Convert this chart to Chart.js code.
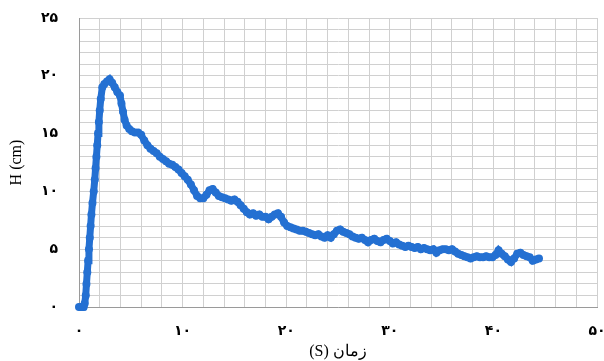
<!DOCTYPE html>
<html>
<head>
<meta charset="utf-8">
<script src="https://cdn.jsdelivr.net/npm/chart.js@4.4.1/dist/chart.umd.min.js"></script>
<style>
  html, body { margin: 0; padding: 0; background: #fff; }
  #wrap { width: 604px; height: 361px; position: relative; }
  #wrap canvas { position: absolute; left: 0; top: 0; }
</style>
</head>
<body>
<div id="wrap">
  <canvas id="gridChart" width="604" height="361"></canvas>
  <canvas id="hChart" width="604" height="361"></canvas>
</div>
<script>
// time (s) and water height (cm)
const timeS = [0,0.15,0.3,0.45,0.55,0.65,0.72,0.8,0.88,0.96,1.04,1.12,1.2,1.3,1.42,1.52,1.6,1.68,1.76,1.84,1.92,2.0,2.1,2.25,2.45,2.7,2.95,
  3.2,3.45,3.7,3.95,4.1,4.25,4.4,4.6,4.85,5.1,5.4,5.7,6.0,6.3,6.6,6.9,7.2,7.5,7.8,8.1,8.4,8.7,9.0,9.3,9.6,9.9,
  10.2,10.5,10.8,11.1,11.4,11.7,12.0,12.3,12.6,12.9,13.2,13.5,13.8,14.1,14.4,14.7,15.0,15.3,15.6,15.9,16.2,16.5,16.8,17.1,17.4,17.7,18.0,18.3,18.6,18.9,19.2,19.5,19.8,
  20.1,20.4,20.7,21.0,21.3,21.6,21.9,22.2,22.5,22.8,23.1,23.4,23.7,24.0,24.3,24.6,24.9,25.2,25.5,25.8,26.1,26.4,26.7,27.0,27.3,27.6,27.9,28.2,28.5,28.8,29.1,29.4,29.7,
  30.0,30.3,30.6,30.9,31.2,31.5,31.8,32.1,32.4,32.7,33.0,33.3,33.6,33.9,34.2,34.5,34.8,35.1,35.4,35.7,36.0,36.3,36.6,36.9,37.2,37.5,37.8,38.1,38.4,38.7,39.0,39.3,39.6,39.9,
  40.2,40.5,40.8,41.1,41.4,41.7,42.0,42.3,42.6,42.9,43.2,43.5,43.8,44.1,44.4];
const heightCm = [0,0,0,0,0.3,1.0,2.0,3.0,4.0,5.0,6.0,7.0,8.0,9.0,10.0,11.0,12.0,13.0,14.0,15.0,16.0,17.0,18.0,19.0,19.3,19.5,19.7,
  19.4,19.0,18.6,18.3,17.6,16.9,16.2,15.7,15.4,15.2,15.1,15.1,14.9,14.4,14.0,13.7,13.5,13.3,13.0,12.8,12.6,12.4,12.3,12.1,11.9,11.6,
  11.3,11.0,10.6,10.1,9.6,9.4,9.4,9.7,10.1,10.2,9.9,9.6,9.5,9.4,9.3,9.2,9.3,9.1,8.8,8.5,8.2,8.0,8.1,7.9,8.0,7.8,7.8,7.6,7.8,8.0,8.1,7.8,7.3,
  7.0,6.9,6.8,6.7,6.6,6.6,6.5,6.4,6.3,6.2,6.3,6.1,6.0,6.2,6.0,6.3,6.6,6.7,6.5,6.4,6.3,6.1,6.0,5.9,6.0,5.8,5.6,5.8,5.9,5.7,5.6,5.8,5.9,
  5.7,5.5,5.6,5.4,5.3,5.2,5.3,5.2,5.1,5.2,5.0,5.1,5.0,4.9,5.0,4.7,4.9,5.0,5.0,4.9,5.0,4.8,4.6,4.5,4.4,4.3,4.2,4.3,4.4,4.3,4.3,4.4,4.3,4.3,
  4.5,4.9,4.6,4.4,4.1,3.9,4.2,4.6,4.7,4.5,4.4,4.3,4.0,4.1,4.2];

// drawn left to right: "(S)" then the word, as in the picture
const xTitle = '(S) زمان';
const yTitle = 'H (cm)';

function toFa(n) {
  return String(n).replace(/\d/g, d => '۰۱۲۳۴۵۶۷۸۹'[d]);
}

const points = timeS.map((t, i) => ({ x: t, y: heightCm[i] }));
const blue = '#2470d2';
const gridColor = '#d0d0d0';
const axisColor = '#9a9a9a';
const pad = { top: 18, right: 7, left: 0, bottom: 0 };

// fixed axis boxes so both canvases get the same plot area
const fitX = s => { s.height = 54; s.paddingLeft = 0; s.paddingRight = 0; };
const fitY = s => { s.width = 79; s.paddingTop = 0; s.paddingBottom = 0; };

// 1) grid-only chart underneath (no text on it; the bold labels made the grid vanish)
new Chart(document.getElementById('gridChart').getContext('2d'), {
  type: 'scatter',
  data: { datasets: [] },
  options: {
    responsive: false,
    animation: false,
    layout: { padding: pad },
    plugins: { legend: { display: false }, tooltip: { enabled: false } },
    scales: {
      x: {
        min: 0, max: 50,
        grid: { color: gridColor, drawTicks: false },
        border: { color: axisColor },
        ticks: { stepSize: 2, autoSkip: false, maxRotation: 0, callback: () => '' },
        afterFit: fitX
      },
      y: {
        min: 0, max: 25,
        grid: { color: gridColor, drawTicks: false },
        border: { color: axisColor },
        ticks: { stepSize: 1, autoSkip: false, callback: () => '' },
        afterFit: fitY
      }
    }
  }
});

// 2) data, tick labels and titles on top
Chart.defaults.font.family = 'DejaVu Sans';
Chart.defaults.font.size = 14;
Chart.defaults.font.weight = 'bold';
Chart.defaults.color = '#000';

new Chart(document.getElementById('hChart').getContext('2d'), {
  type: 'scatter',
  data: {
    datasets: [{
      data: points,
      showLine: true,
      borderColor: blue,
      backgroundColor: blue,
      borderWidth: 7,
      pointRadius: 4,
      pointBorderWidth: 0,
      pointBackgroundColor: blue,
      tension: 0,
      clip: false
    }]
  },
  options: {
    responsive: false,
    animation: false,
    layout: { padding: pad },
    plugins: { legend: { display: false }, tooltip: { enabled: false } },
    scales: {
      x: {
        min: 0, max: 50,
        grid: { display: false },
        border: { display: false },
        ticks: {
          stepSize: 2, autoSkip: false, maxRotation: 0, padding: 8,
          callback: v => v % 10 === 0 ? toFa(v) : ''
        },
        title: { display: true, text: xTitle, font: { family: 'Liberation Serif', size: 16, weight: 'normal' }, padding: 0 },
        afterFit: fitX
      },
      y: {
        min: 0, max: 25,
        grid: { display: false },
        border: { display: false },
        ticks: {
          stepSize: 1, autoSkip: false, padding: 13,
          callback: v => v % 5 === 0 ? toFa(v) : ''
        },
        title: { display: true, text: yTitle, font: { family: 'Liberation Serif', size: 16, weight: 'normal' }, padding: { top: 7, bottom: 7 } },
        afterFit: fitY
      }
    }
  }
});
</script>
</body>
</html>
